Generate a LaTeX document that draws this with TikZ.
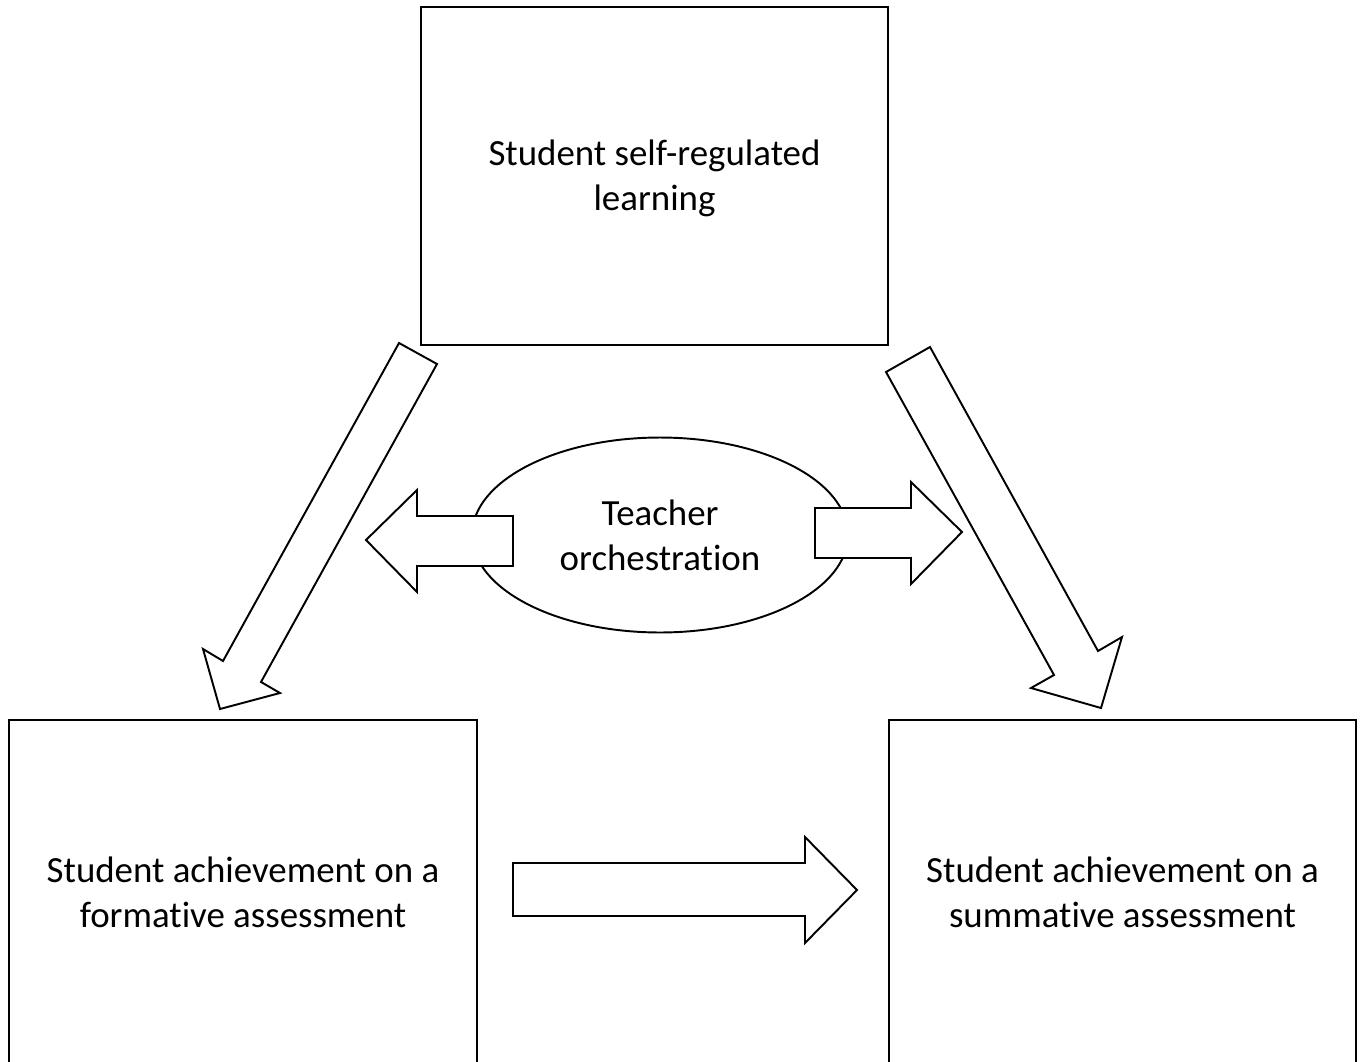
\documentclass[tikz,border=0pt]{standalone}
\usepackage{fontspec}
\setmainfont{Carlito}[Ligatures=NoCommon]
\usetikzlibrary{shapes.geometric}

\begin{document}
\begin{tikzpicture}[x=0.02cm, y=-0.02cm,
		box/.style={draw, line width=1.1pt, minimum width=9.35cm, align=center, font=\fontsize{21}{25.5}\selectfont},
		blockarrow/.style={draw, line width=1.1pt, fill=white, line join=miter}]
		%%%%% START %%%%%
		\useasboundingbox (0, 0) rectangle (1361, 1061);
		
		\node[box, minimum height=6.76cm] (srl) at (654.5, 176) {\rule{0pt}{0.6cm}Student self-regulated\\learning};
		\node[box, minimum height=6.9cm] (formative) at (243, 892.5) {Student achievement on a\\formative assessment};
		\node[box, minimum height=6.9cm] (summative) at (1122.5, 892.5) {Student achievement on a\\summative assessment};
		
		\node[box, ellipse, minimum width=7.52cm, minimum height=3.9cm] (teacher) at (660, 535) {Teacher\\orchestration};
		
		% orchestration arrows
		\draw[blockarrow] (513, 516) -- (417, 516) -- (417, 490) -- (366, 540) -- (417, 592) -- (417, 566) -- (513, 566) -- cycle;
		\draw[blockarrow] (815, 508) -- (911, 508) -- (911, 482) -- (962, 532) -- (911, 584) -- (911, 558) -- (815, 558) -- cycle;
		
		% self-regulation down to both assessments
		\draw[blockarrow] (399, 343) -- (437, 364) -- (261, 682) -- (280, 693) -- (220, 709) -- (203, 649) -- (223, 661) -- cycle;
		\draw[blockarrow] (930, 347) -- (886, 372) -- (1054, 675) -- (1031, 688) -- (1101, 708) -- (1122, 637) -- (1098, 651) -- cycle;
		
		% formative to summative
		\draw[blockarrow] (513, 863) -- (805, 863) -- (805, 837) -- (857, 890) -- (805, 943) -- (805, 916) -- (513, 916) -- cycle;
		
		%%%%% END %%%%%
	\end{tikzpicture}
\end{document}
